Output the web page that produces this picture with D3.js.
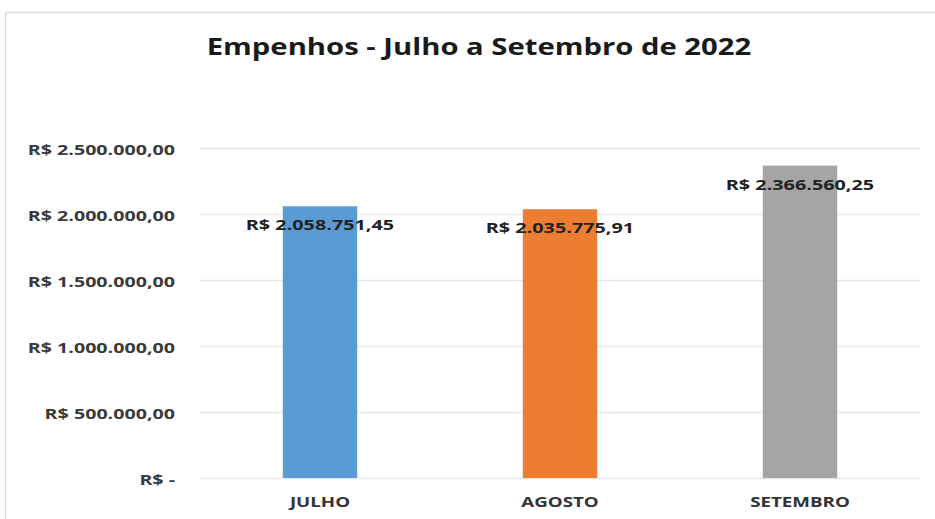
<!DOCTYPE html>
<html><head><meta charset="utf-8">
<script src="https://cdn.jsdelivr.net/npm/d3@7"></script>
<style>body{margin:0;background:#fff;}svg{display:block;}</style>
</head><body>
<svg id="c" width="935" height="519"></svg>
<script>
const categories = ["JULHO", "AGOSTO", "SETEMBRO"];
const values = [2058751.45, 2035775.91, 2366560.25];
const valueLabels = ["R$ 2.058.751,45", "R$ 2.035.775,91", "R$ 2.366.560,25"];
const colors = ["#5B9BD5", "#ED7D31", "#A5A5A5"];
const tickValues = [0, 500000, 1000000, 1500000, 2000000, 2500000];
const tickLabels = ["R$ -", "R$ 500.000,00", "R$ 1.000.000,00", "R$ 1.500.000,00", "R$ 2.000.000,00", "R$ 2.500.000,00"];
const title = "Empenhos - Julho a Setembro de 2022";

const svg = d3.select("#c");
const font = "'Open Sans', sans-serif";
svg.append("rect").attr("x",5.5).attr("y",12.5).attr("width",940).attr("height",520)
  .attr("fill","#fff").attr("stroke","#d9d9d9").attr("stroke-width",1.5);

const x = d3.scaleBand().domain(categories).range([200, 920]).paddingInner(0.69).paddingOuter(0.345);
const y = d3.scaleLinear().domain([0, 2500000]).range([478, 148]);

function stretch(sel, k) {
  sel.each(function() {
    const w = this.getComputedTextLength();
    d3.select(this).attr("textLength", w * k).attr("lengthAdjust", "spacingAndGlyphs");
  });
}

const t = svg.append("text").attr("x", 479).attr("y", 55).attr("text-anchor","middle")
  .attr("font-family", font).attr("font-weight","bold").attr("font-size",22.5).attr("fill","#1a1a1a").text(title);
stretch(t, 1.3);

const gy = svg.append("g").attr("transform","translate(200,0)")
  .call(d3.axisLeft(y).tickValues(tickValues).tickSize(-720).tickPadding(25).tickFormat((d,i)=>tickLabels[i]));
gy.select(".domain").remove();
gy.selectAll(".tick line").attr("stroke","#e6e6e6").attr("stroke-width",1.3);
gy.selectAll(".tick text").attr("font-family",font).attr("font-weight","bold").attr("font-size",15).attr("dy","0.42em").attr("fill","#3a3a3a");
stretch(gy.selectAll(".tick text"), 1.31);

svg.selectAll("rect.bar").data(values).enter().append("rect").attr("class","bar")
  .attr("x",(d,i)=>x(categories[i])).attr("width",x.bandwidth())
  .attr("y",d=>y(d)).attr("height",d=>y(0)-y(d)).attr("fill",(d,i)=>colors[i]);

const vl = svg.selectAll("text.vl").data(values).enter().append("text").attr("class","vl")
  .attr("x",(d,i)=>x(categories[i])+x.bandwidth()/2).attr("y",d=>y(d)+24)
  .attr("text-anchor","middle").attr("font-family",font).attr("font-weight","bold").attr("font-size",15)
  .attr("fill","#222").text((d,i)=>valueLabels[i]);
stretch(vl, 1.32);

const gx = svg.append("g").attr("transform","translate(0,478)")
  .call(d3.axisBottom(x).tickSize(0).tickPadding(18));
gx.select(".domain").remove();
gx.selectAll(".tick text").attr("font-family",font).attr("font-weight","bold").attr("font-size",15).attr("fill","#333");
stretch(gx.selectAll(".tick text"), 1.25);
</script>
</body></html>
